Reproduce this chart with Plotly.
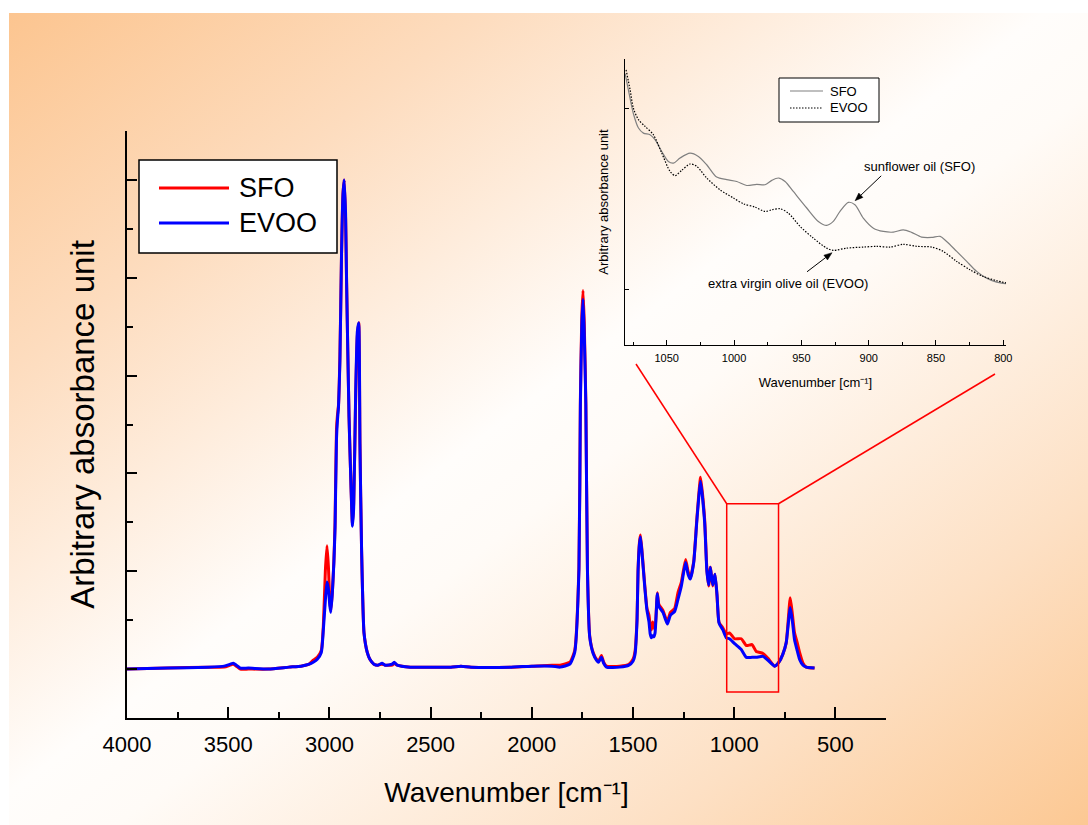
import base64
import math
import plotly.graph_objects as go

W, H = 1088, 825
FONT = "Arial, 'Liberation Sans', sans-serif"

# ---- full FTIR spectra (wavenumber in cm-1, arbitrary absorbance) ----
wavenumber = [4000, 3800, 3600, 3520, 3490, 3475, 3460, 3440, 3400, 3300, 3200, 3140, 3100,
              3080, 3060, 3040, 3030, 3020, 3012, 3005, 2998, 2993, 2985, 2978, 2972, 2965,
              2960, 2955, 2948, 2940, 2933, 2927, 2920, 2915, 2903, 2893, 2886, 2880, 2870,
              2862, 2855, 2849, 2841, 2829, 2813, 2800, 2780, 2760, 2740, 2725, 2690, 2680,
              2665, 2600, 2400, 2350, 2300, 2100, 2000, 1900, 1860, 1812, 1788, 1767, 1760,
              1753, 1747, 1741, 1733, 1725, 1714, 1697, 1680, 1670, 1656, 1645, 1631, 1566,
              1520, 1500, 1490, 1480, 1475, 1468, 1463, 1454, 1442, 1431, 1421, 1415, 1409,
              1403, 1397, 1391, 1385, 1380, 1372, 1352, 1340, 1330, 1315, 1294, 1278, 1261,
              1240, 1228, 1217, 1200, 1184, 1166, 1146, 1135, 1126, 1118, 1106, 1095, 1085,
              1075, 1056, 1039, 1023, 998, 965, 940, 912, 891, 858, 833, 800, 779, 760, 743,
              723, 712, 702, 690, 677, 660, 644, 603]
sfo = [0.00, 0.01, 0.02, 0.02, 0.04, 0.05, 0.03, 0.00, 0.00, 0.00, 0.02, 0.03, 0.05,
       0.09, 0.12, 0.19, 0.44, 1.00, 1.26, 1.05, 0.70, 0.60, 0.80, 1.10, 1.50, 2.45,
       2.60, 2.70, 3.20, 4.25, 4.85, 5.00, 4.60, 3.95, 2.58, 1.85, 1.48, 1.70, 2.80,
       3.40, 3.54, 2.30, 1.22, 0.37, 0.17, 0.10, 0.05, 0.04, 0.05, 0.04, 0.04, 0.06,
       0.04, 0.02, 0.02, 0.03, 0.02, 0.02, 0.03, 0.04, 0.04, 0.07, 0.19, 1.05, 2.75,
       3.60, 3.87, 3.55, 2.72, 1.02, 0.34, 0.17, 0.10, 0.08, 0.14, 0.07, 0.03, 0.03,
       0.05, 0.10, 0.18, 0.52, 1.02, 1.30, 1.37, 1.17, 0.86, 0.62, 0.55, 0.45, 0.40,
       0.48, 0.44, 0.40, 0.60, 0.78, 0.66, 0.60, 0.53, 0.49, 0.58, 0.62, 0.78, 0.89,
       1.12, 1.00, 0.93, 1.10, 1.55, 1.96, 1.53, 1.02, 0.85, 1.04, 0.85, 0.97, 0.75,
       0.48, 0.42, 0.36, 0.37, 0.31, 0.31, 0.24, 0.25, 0.18, 0.16, 0.11, 0.03, 0.07,
       0.15, 0.27, 0.73, 0.55, 0.37, 0.28, 0.17, 0.06, 0.02, 0.01]
evoo = [0.00, 0.01, 0.02, 0.03, 0.05, 0.06, 0.04, 0.01, 0.01, 0.00, 0.02, 0.03, 0.05,
        0.07, 0.10, 0.17, 0.40, 0.70, 0.89, 0.82, 0.65, 0.58, 0.80, 1.08, 1.45, 2.35,
        2.55, 2.68, 3.15, 4.25, 4.85, 5.00, 4.65, 3.95, 2.58, 1.85, 1.46, 1.65, 2.85,
        3.45, 3.54, 2.30, 1.22, 0.37, 0.17, 0.10, 0.05, 0.04, 0.06, 0.04, 0.05, 0.07,
        0.04, 0.02, 0.02, 0.03, 0.02, 0.02, 0.03, 0.03, 0.02, 0.05, 0.17, 1.02, 2.70,
        3.50, 3.78, 3.45, 2.70, 1.00, 0.33, 0.16, 0.09, 0.07, 0.12, 0.06, 0.02, 0.02,
        0.04, 0.08, 0.15, 0.50, 1.00, 1.28, 1.35, 1.15, 0.84, 0.60, 0.48, 0.36, 0.32,
        0.34, 0.33, 0.37, 0.58, 0.77, 0.64, 0.58, 0.51, 0.46, 0.55, 0.59, 0.71, 0.85,
        1.09, 0.97, 0.92, 1.09, 1.53, 1.92, 1.50, 1.00, 0.86, 1.04, 0.86, 0.97, 0.76,
        0.47, 0.40, 0.32, 0.31, 0.26, 0.20, 0.12, 0.12, 0.12, 0.13, 0.09, 0.03, 0.07,
        0.15, 0.27, 0.63, 0.48, 0.30, 0.20, 0.10, 0.04, 0.02, 0.01]

# ---- expanded 1080-800 cm-1 region ----
zoom_wn_sfo = [1080.9, 1078.5, 1074.8, 1071.0, 1067.3, 1062.4, 1058.7, 1053.7, 1048.8, 1045.0,
               1040.1, 1032.7, 1026.5, 1020.3, 1012.9, 1005.4, 998.0, 990.6, 983.2, 977.0,
               972.0, 967.1, 962.1, 956.0, 946.0, 937.4, 931.2, 926.3, 921.3, 915.1, 910.2,
               904.0, 896.5, 889.1, 881.7, 874.3, 868.1, 860.7, 853.2, 847.0, 842.1, 834.6,
               827.2, 819.8, 812.4, 805.0, 797.5]
zoom_sfo = [1.19, 1.10, 0.97, 0.89, 0.862, 0.853, 0.826, 0.761, 0.706, 0.697,
            0.725, 0.752, 0.734, 0.688, 0.620, 0.606, 0.596, 0.574, 0.580, 0.578,
            0.602, 0.615, 0.596, 0.541, 0.450, 0.376, 0.354, 0.376, 0.431, 0.481, 0.468,
            0.394, 0.339, 0.321, 0.317, 0.330, 0.316, 0.290, 0.288, 0.294, 0.266, 0.211,
            0.156, 0.101, 0.064, 0.042, 0.033]
zoom_wn_evoo = [1080.2, 1077.2, 1074.8, 1071.0, 1066.1, 1059.9, 1053.7, 1047.5, 1043.8, 1038.9,
                1032.7, 1027.7, 1020.3, 1010.4, 1000.5, 993.0, 984.4, 977.0, 972.0, 965.9,
                959.7, 951.0, 941.1, 931.2, 926.3, 916.4, 904.0, 894.1, 884.2, 874.3, 864.4,
                853.2, 844.6, 834.6, 824.7, 814.9, 805.0, 797.5]
zoom_evoo = [1.21, 1.10, 1.00, 0.936, 0.899, 0.853, 0.752, 0.651, 0.628, 0.657,
             0.692, 0.679, 0.615, 0.550, 0.505, 0.473, 0.455, 0.431, 0.440, 0.446,
             0.422, 0.349, 0.284, 0.229, 0.217, 0.229, 0.235, 0.239, 0.235, 0.250, 0.239,
             0.235, 0.211, 0.156, 0.110, 0.073, 0.050, 0.037]

x_tick_vals = [4000, 3500, 3000, 2500, 2000, 1500, 1000, 500]
zoom_tick_vals = [1050, 1000, 950, 900, 850, 800]

X_TITLE = "Wavenumber [cm\u207b\u00b9]"
Y_TITLE = "Arbitrary absorbance unit"

# callout arrows in the expanded view: (tail wn, tail a) -> (head wn, head a)
sfo_arrow = ((890.7, 0.627), (910.1, 0.49))
evoo_arrow = ((945.8, 0.099), (927.2, 0.204))

# ---- layout geometry (pixels) ----
MAIN_X = (127, 886)
MAIN_Y = (131, 718)
INSET_X = (625, 1006)
INSET_Y = (59, 345)
MAIN_XR = (4000, 250)
MAIN_YR = (-0.5, 5.5)
INSET_XR = (1081, 798)
INSET_YR = (-0.304, 1.27)
WINDOW_WN = (1037, 781)
WINDOW_A = (-0.235, 1.69)


def fx(p):
    return p / W


def fy(p):
    return 1 - p / H


def to_px(xv, yv, xpix, ypix, xr, yr):
    x = xpix[0] + (xr[0] - xv) / (xr[0] - xr[1]) * (xpix[1] - xpix[0])
    y = ypix[1] - (yv - yr[0]) / (yr[1] - yr[0]) * (ypix[1] - ypix[0])
    return x, y


def main_px(wn, a):
    return to_px(wn, a, MAIN_X, MAIN_Y, MAIN_XR, MAIN_YR)


def inset_px(wn, a):
    return to_px(wn, a, INSET_X, INSET_Y, INSET_XR, INSET_YR)


fig = go.Figure()

fig.add_trace(go.Scatter(x=wavenumber, y=sfo, mode="lines", name="SFO",
                         line=dict(color="#ff0000", width=3, shape="spline", smoothing=0.5),
                         showlegend=False, xaxis="x", yaxis="y"))
fig.add_trace(go.Scatter(x=wavenumber, y=evoo, mode="lines", name="EVOO",
                         line=dict(color="#0000ff", width=3, shape="spline", smoothing=0.5),
                         showlegend=False, xaxis="x", yaxis="y"))

fig.add_trace(go.Scatter(x=zoom_wn_sfo, y=zoom_sfo, mode="lines", name="SFO",
                         line=dict(color="#808080", width=1.2, shape="spline", smoothing=0.8),
                         showlegend=False, xaxis="x2", yaxis="y2"))
fig.add_trace(go.Scatter(x=zoom_wn_evoo, y=zoom_evoo, mode="lines", name="EVOO",
                         line=dict(color="#000000", width=1.2, dash="1.5px,1.5px",
                                   shape="spline", smoothing=0.8),
                         showlegend=False, xaxis="x2", yaxis="y2"))

axis_common = dict(showgrid=False, zeroline=False, showline=True, linecolor="black",
                   ticks="inside", tickcolor="black", automargin=False)

fig.update_layout(
    width=W, height=H,
    margin=dict(l=0, r=0, t=0, b=0, autoexpand=False),
    paper_bgcolor="white",
    plot_bgcolor="rgba(0,0,0,0)",
    font=dict(family=FONT, color="black"),
    showlegend=False,
    xaxis=dict(**axis_common, domain=[fx(MAIN_X[0]), fx(MAIN_X[1])], range=list(MAIN_XR),
               tickvals=x_tick_vals, ticklen=11, tickwidth=2, linewidth=2,
               minor=dict(dtick=250, tick0=0, ticks="inside", ticklen=6, tickwidth=2, tickcolor="black"),
               tickfont=dict(size=22), anchor="y", ticklabelstandoff=6,
               title=dict(text=X_TITLE, font=dict(size=28), standoff=26)),
    yaxis=dict(**axis_common, domain=[fy(MAIN_Y[1]), fy(MAIN_Y[0])], range=list(MAIN_YR),
               dtick=1, tick0=0, ticklen=10, tickwidth=2, linewidth=2, showticklabels=False,
               minor=dict(dtick=0.5, tick0=0, ticks="inside", ticklen=6, tickwidth=2, tickcolor="black"),
               anchor="x",
               title=dict(text=Y_TITLE, font=dict(size=33), standoff=20)),
    xaxis2=dict(**axis_common, domain=[fx(INSET_X[0]), fx(INSET_X[1])], range=list(INSET_XR),
                tickvals=zoom_tick_vals, ticklen=5, tickwidth=1, linewidth=1.2,
                minor=dict(dtick=25, tick0=0, ticks="inside", ticklen=3, tickwidth=1, tickcolor="black"),
                tickfont=dict(size=11), anchor="y2", ticklabelstandoff=3,
                title=dict(text=X_TITLE, font=dict(size=13), standoff=14)),
    yaxis2=dict(**axis_common, domain=[fy(INSET_Y[1]), fy(INSET_Y[0])], range=list(INSET_YR),
                tickvals=[0, 1], ticklen=4, tickwidth=1, linewidth=1.2, showticklabels=False,
                anchor="x2",
                title=dict(text=Y_TITLE, font=dict(size=13), standoff=12)),
)

# gradient backdrop
svg = ('<svg xmlns="http://www.w3.org/2000/svg" width="1079" height="812" '
       'viewBox="0 0 1079 812" preserveAspectRatio="none"><defs>'
       '<linearGradient id="g" x1="0" y1="0" x2="1" y2="1">'
       '<stop offset="0" stop-color="#fcc590"/>'
       '<stop offset="0.22" stop-color="#fddcbe"/>'
       '<stop offset="0.48" stop-color="#fffdfb"/>'
       '<stop offset="0.55" stop-color="#fffbf7"/>'
       '<stop offset="0.8" stop-color="#fde0c4"/>'
       '<stop offset="1" stop-color="#fcc893"/>'
       '</linearGradient></defs>'
       '<rect width="1079" height="812" fill="url(#g)"/></svg>')
src = "data:image/svg+xml;base64," + base64.b64encode(svg.encode()).decode()
fig.add_layout_image(dict(source=src, xref="paper", yref="paper",
                          x=fx(9), y=fy(13), sizex=1079 / W, sizey=812 / H,
                          xanchor="left", yanchor="top", sizing="stretch", layer="below"))

shapes = []
# window marking the expanded region
shapes.append(dict(type="rect", xref="x", yref="y", x0=WINDOW_WN[0], x1=WINDOW_WN[1],
                   y0=WINDOW_A[0], y1=WINDOW_A[1], line=dict(color="#ff0000", width=1.5)))
tl = main_px(WINDOW_WN[0], WINDOW_A[1])
tr = main_px(WINDOW_WN[1], WINDOW_A[1])
shapes.append(dict(type="line", xref="paper", yref="paper", x0=fx(tl[0]), y0=fy(tl[1]),
                   x1=fx(636), y1=fy(364), line=dict(color="#ff0000", width=1.5)))
shapes.append(dict(type="line", xref="paper", yref="paper", x0=fx(tr[0]), y0=fy(tr[1]),
                   x1=fx(995), y1=fy(374), line=dict(color="#ff0000", width=1.5)))

# main legend box
shapes.append(dict(type="rect", xref="paper", yref="paper", x0=fx(139), x1=fx(337),
                   y0=fy(253), y1=fy(160), fillcolor="white", line=dict(color="black", width=1.5)))
shapes.append(dict(type="line", xref="paper", yref="paper", x0=fx(159), x1=fx(229),
                   y0=fy(188), y1=fy(188), line=dict(color="#ff0000", width=3)))
shapes.append(dict(type="line", xref="paper", yref="paper", x0=fx(159), x1=fx(229),
                   y0=fy(223), y1=fy(223), line=dict(color="#0000ff", width=3)))

# inset legend box
shapes.append(dict(type="rect", xref="paper", yref="paper", x0=fx(779), x1=fx(879),
                   y0=fy(122), y1=fy(78), fillcolor="white", line=dict(color="black", width=1)))
shapes.append(dict(type="line", xref="paper", yref="paper", x0=fx(790), x1=fx(823),
                   y0=fy(91), y1=fy(91), line=dict(color="#808080", width=1.2)))
shapes.append(dict(type="line", xref="paper", yref="paper", x0=fx(790), x1=fx(823),
                   y0=fy(108), y1=fy(108), line=dict(color="black", width=1.2, dash="1.5px,1.5px")))

# callout arrows: shaft plus a filled arrowhead
for (t_wn, t_a), (h_wn, h_a) in (sfo_arrow, evoo_arrow):
    x0, y0 = inset_px(t_wn, t_a)
    x1, y1 = inset_px(h_wn, h_a)
    ang = math.atan2(y1 - y0, x1 - x0)
    hl, hw = 8.0, 3.0
    bx, by = x1 - hl * math.cos(ang), y1 - hl * math.sin(ang)
    lx, ly = bx + hw * math.sin(ang), by - hw * math.cos(ang)
    rx, ry = bx - hw * math.sin(ang), by + hw * math.cos(ang)
    shapes.append(dict(type="line", xref="paper", yref="paper", x0=fx(x0), y0=fy(y0),
                       x1=fx(bx), y1=fy(by), line=dict(color="black", width=1)))
    path = (f"M {fx(x1):.5f} {fy(y1):.5f} L {fx(lx):.5f} {fy(ly):.5f} "
            f"L {fx(rx):.5f} {fy(ry):.5f} Z")
    shapes.append(dict(type="path", xref="paper", yref="paper", path=path,
                       fillcolor="black", line=dict(color="black", width=0.5)))
fig.update_layout(shapes=shapes)

ann = []
ann.append(dict(text="SFO", xref="paper", yref="paper", x=fx(237), y=fy(188),
                xanchor="left", yanchor="middle", showarrow=False, font=dict(size=27)))
ann.append(dict(text="EVOO", xref="paper", yref="paper", x=fx(237), y=fy(223),
                xanchor="left", yanchor="middle", showarrow=False, font=dict(size=27)))
ann.append(dict(text="SFO", xref="paper", yref="paper", x=fx(828), y=fy(91),
                xanchor="left", yanchor="middle", showarrow=False, font=dict(size=13)))
ann.append(dict(text="EVOO", xref="paper", yref="paper", x=fx(828), y=fy(108),
                xanchor="left", yanchor="middle", showarrow=False, font=dict(size=13)))

# inset callout labels
ann.append(dict(text="sunflower oil (SFO)", xref="x2", yref="y2", x=862.5, y=0.677,
                xanchor="center", yanchor="middle", showarrow=False, font=dict(size=13)))
ann.append(dict(text="extra virgin olive oil (EVOO)", xref="x2", yref="y2", x=959.8, y=0.033,
                xanchor="center", yanchor="middle", showarrow=False, font=dict(size=13)))
fig.update_layout(annotations=ann)

fig.write_html("out.html")
